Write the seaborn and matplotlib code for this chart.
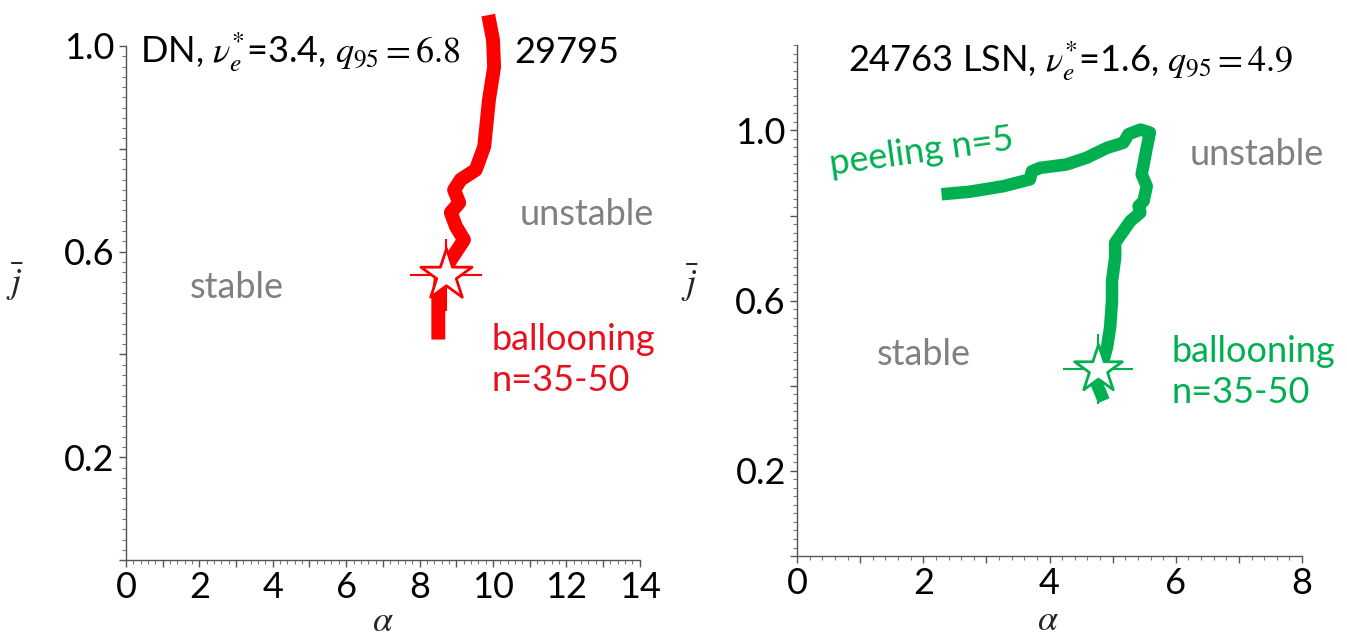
import numpy as np
import pandas as pd
import matplotlib
matplotlib.use("Agg")
import matplotlib.pyplot as plt
from matplotlib.ticker import MultipleLocator
import seaborn as sns

# ---- data ----
dn_alpha = [8.51, 8.51, 8.58, 8.85, 9.21, 8.99, 8.85, 9.08, 8.94, 9.12, 9.53, 9.76, 9.89, 10.03, 10.00, 9.87]
dn_j     = [0.429, 0.507, 0.551, 0.584, 0.623, 0.649, 0.676, 0.695, 0.720, 0.740, 0.759, 0.804, 0.895, 0.959, 1.012, 1.060]
dn_star  = (8.73, 0.555)

lsn_alpha = [2.29, 2.74, 3.27, 3.69, 3.72, 3.85, 4.27, 4.59, 4.91, 5.17, 5.25, 5.44, 5.59, 5.54, 5.46, 5.54,
             5.49, 5.41, 5.44, 5.28, 5.04, 5.04, 4.99, 4.99, 4.96, 4.91, 4.75, 4.86]
lsn_j     = [0.850, 0.856, 0.869, 0.885, 0.904, 0.912, 0.920, 0.936, 0.959, 0.971, 0.991, 1.002, 0.995, 0.959, 0.897, 0.869,
             0.834, 0.822, 0.807, 0.787, 0.736, 0.701, 0.646, 0.599, 0.537, 0.490, 0.404, 0.365]
lsn_star  = (4.77, 0.439)

x_ticks_left = [0, 2, 4, 6, 8, 10, 12, 14]
x_ticks_right = [0, 2, 4, 6, 8]
y_tick_labels = ["", "0.2", "", "0.6", "", "1.0"]
y_ticks = [0.0, 0.2, 0.4, 0.6, 0.8, 1.0]

RED = "#ff0000"
RED_TXT = "#e8101e"
GREEN = "#00b050"
GRAY = "#808080"

sns.set_theme(style="ticks")
plt.rcParams["font.family"] = ["Lato", "DejaVu Sans"]
plt.rcParams["mathtext.fontset"] = "stix"

fig = plt.figure(figsize=(13.47, 6.38), dpi=100)
axL = fig.add_axes([0.0935, 0.122, 0.3815, 0.806])
axR = fig.add_axes([0.5917, 0.1285, 0.3749, 0.8005])

FS = 26
TFS = 26


def style_axis(ax, xmax, ymax, xticks):
    ax.set_xlim(0, xmax)
    ax.set_ylim(0, ymax)
    for s in ["top", "right"]:
        ax.spines[s].set_visible(False)
    for s in ["left", "bottom"]:
        ax.spines[s].set_color("#555555")
        ax.spines[s].set_linewidth(1.0)
    ax.set_xticks(range(0, xmax + 1))
    ax.set_xticklabels([str(v) if v in xticks else "" for v in range(0, xmax + 1)])
    ax.xaxis.set_minor_locator(MultipleLocator(0.2))
    ax.set_yticks(y_ticks)
    ax.set_yticklabels(y_tick_labels)
    ax.yaxis.set_minor_locator(MultipleLocator(0.02))
    ax.tick_params(which="major", direction="out", length=5, width=1, color="#555555",
                   labelsize=TFS, labelcolor="black", pad=3)
    ax.tick_params(which="minor", direction="out", length=3, width=0.8, color="#777777")
    ax.set_xlabel(r"$\alpha$", fontsize=TFS)
    ax.set_ylabel(r"$\bar{j}$", fontsize=TFS, rotation=0, va="center")


# ---- left panel ----
dfL = pd.DataFrame({"alpha": dn_alpha, "j": dn_j})
sns.lineplot(data=dfL, x="alpha", y="j", sort=False, estimator=None, ax=axL, color=RED,
             linewidth=10, clip_on=False, solid_capstyle="butt", solid_joinstyle="round", zorder=3)
axL.plot([dn_star[0]], [dn_star[1]], marker="+", ms=52, mew=1.5, color=RED, zorder=4, linestyle="none")
sns.scatterplot(x=[dn_star[0]], y=[dn_star[1]], marker="*", s=1500, color="white", edgecolor=RED,
                linewidth=2, ax=axL, zorder=5)
style_axis(axL, 14, 1.0, x_ticks_left)
axL.yaxis.set_label_coords(-0.216, 0.54)
axL.xaxis.set_label_coords(0.5, -0.085)

axL.text(0.38, 0.988, r"DN, $\nu_e^{*}$=3.4, $q_{95}=6.8$", fontsize=FS, va="center", ha="left",
         color="black")
axL.text(12.0, 0.988, "29795", fontsize=FS, va="center", ha="center", color="black")
axL.text(3.02, 0.53, "stable", fontsize=FS, color=GRAY, ha="center", va="center")
axL.text(12.55, 0.672, "unstable", fontsize=FS, color=GRAY, ha="center", va="center")
axL.text(9.97, 0.389, "ballooning\nn=35-50", fontsize=FS, color=RED_TXT, ha="left", va="center",
         linespacing=1.3)

# ---- right panel ----
dfR = pd.DataFrame({"alpha": lsn_alpha, "j": lsn_j})
sns.lineplot(data=dfR, x="alpha", y="j", sort=False, estimator=None, ax=axR, color=GREEN,
             linewidth=9, solid_capstyle="butt", solid_joinstyle="round", zorder=3)
axR.plot([lsn_star[0]], [lsn_star[1]], marker="+", ms=50, mew=1.5, color=GREEN, zorder=4, linestyle="none")
sns.scatterplot(x=[lsn_star[0]], y=[lsn_star[1]], marker="*", s=1300, color="white", edgecolor=GREEN,
                linewidth=2, ax=axR, zorder=5)
style_axis(axR, 8, 1.2, x_ticks_right)
axR.yaxis.set_label_coords(-0.212, 0.534)
axR.xaxis.set_label_coords(0.497, -0.092)

axR.text(0.81, 1.162, r"24763 LSN, $\nu_e^{*}$=1.6, $q_{95}=4.9$", fontsize=FS, va="center", ha="left",
         color="black")
axR.text(1.98, 0.951, "peeling n=5", fontsize=FS, color=GREEN, ha="center", va="center", rotation=8)
axR.text(7.29, 0.944, "unstable", fontsize=FS, color=GRAY, ha="center", va="center")
axR.text(2.0, 0.474, "stable", fontsize=FS, color=GRAY, ha="center", va="center")
axR.text(5.94, 0.433, "ballooning\nn=35-50", fontsize=FS, color=GREEN, ha="left", va="center",
         linespacing=1.3)

fig.savefig("out.png", dpi=100)
